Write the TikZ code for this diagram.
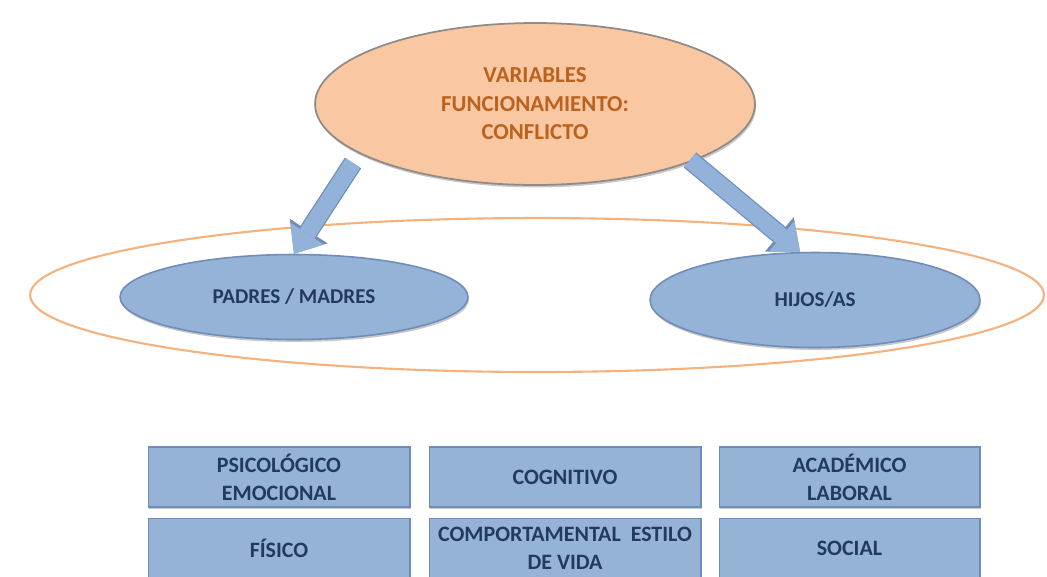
\documentclass[tikz,border=0pt]{standalone}
\usepackage{fontspec}
\setmainfont{Carlito}
\usetikzlibrary{arrows.meta,positioning,shapes.geometric,shadows}
\definecolor{peachfill}{HTML}{F9C8A2}
\definecolor{peachtext}{HTML}{BA621E}
\definecolor{peachedge}{HTML}{8F8B88}
\definecolor{ringline}{HTML}{F4B27E}
\definecolor{bluefill}{HTML}{95B3D7}
\definecolor{blueedge}{HTML}{6F8DB8}
\definecolor{bluetext}{HTML}{24395F}
\definecolor{arrowfill}{HTML}{92B2DA}
\tikzset{
  softshadow/.style={
    drop shadow={shadow xshift=0.6pt, shadow yshift=-1.4pt, opacity=0.3, fill=black!70}
  },
  topoval/.style={
    ellipse,
    draw=peachedge,
    fill=peachfill,
    line width=1pt,
    inner sep=0pt,
    align=center,
    text=peachtext,
    font=\fontsize{13}{16.2}\selectfont\bfseries,
    softshadow
  },
  groupoval/.style={
    ellipse,
    draw=blueedge,
    fill=bluefill,
    line width=0.9pt,
    inner sep=0pt,
    text=bluetext,
    font=\fontsize{12}{15}\selectfont\bfseries,
    softshadow
  },
  ringoval/.style={
    ellipse,
    draw=ringline,
    line width=1.2pt,
    inner sep=0pt
  },
  facetbox/.style={
    rectangle,
    draw=blueedge,
    fill=bluefill,
    line width=0.6pt,
    minimum height=1.2cm,
    inner sep=1pt,
    align=center,
    text=bluetext,
    font=\fontsize{12.5}{16}\selectfont\bfseries,
    softshadow
  },
  fatarrow/.style={
    draw=arrowfill,
    line width=0.34cm,
    -{Triangle[length=0.48cm, width=0.8cm, line width=0pt]},
    preaction={draw=blueedge, line width=0.39cm,
      -{Triangle[length=0.54cm, width=0.9cm, line width=0pt]}}
  }
}

\begin{document}
\begin{tikzpicture}[x=0.02cm, y=-0.02cm]
\useasboundingbox (0,0) rectangle (1047,576);
\clip (0,0) rectangle (1047,576);
\fill[white] (0,0) rectangle (1047,576);
% family ring
\node[ringoval, minimum width=20.28cm, minimum height=3.08cm] (family) at (537,295) {};
\node[topoval, minimum width=8.8cm, minimum height=3.24cm] (conflict) at (535,104)
  {VARIABLES\\FUNCIONAMIENTO:\\CONFLICTO};
\node[groupoval, minimum width=6.96cm, minimum height=1.7cm] (parents) at (294,297) {PADRES / MADRES};
\node[groupoval, minimum width=6.6cm, minimum height=1.9cm] (children) at (815,300) {HIJOS/AS};
\coordinate (leftstart) at (353,163);
\coordinate (rightstart) at (690,160);
\draw[fatarrow] (leftstart) -- (parents.north);
\draw[fatarrow] (rightstart) -- ([xshift=-0.3cm]children.north);
% areas
\node[facetbox, minimum width=5.24cm] (psico) at (279,477) {PSICOLÓGICO\\EMOCIONAL};
\node[facetbox, minimum width=5.44cm, right=0.36cm of psico] (cogni) {COGNITIVO};
\node[facetbox, minimum width=5.22cm, right=0.34cm of cogni] (acad) {ACADÉMICO\\LABORAL};
\node[facetbox, minimum width=5.24cm, below=0.2cm of psico] (fisico) {FÍSICO};
\node[facetbox, minimum width=5.44cm, below=0.2cm of cogni] (compor) {COMPORTAMENTAL~~ESTILO\\DE VIDA};
\node[facetbox, minimum width=5.22cm, below=0.2cm of acad] (social) {SOCIAL};
\end{tikzpicture}
\end{document}
